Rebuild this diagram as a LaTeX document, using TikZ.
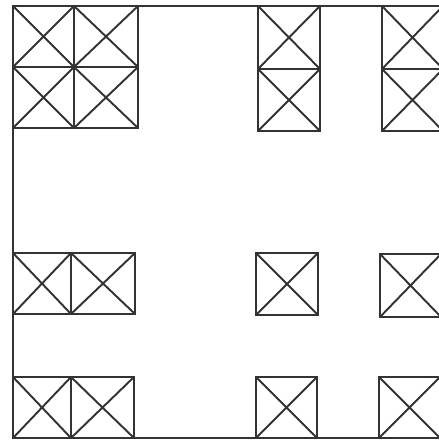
\documentclass[tikz,border=0pt]{standalone}
\usepackage{tikz}

\begin{document}
\begin{tikzpicture}[x=0.02cm,y=-0.02cm,line join=miter,
  frame/.style={line width=1.5pt,black!80},
  xcell/.style={draw,line width=1.4pt,black!80,inner sep=0pt,outer sep=0pt,anchor=north west},
  cross/.style={line width=1.1pt,black!80}]
\clip (0,0) rectangle (439,440);
\useasboundingbox (0,0) rectangle (439,440);

% outer frame, open on the right
\coordinate (tl) at (13,6);
\coordinate (tr) at (445,6);
\coordinate (bl) at (13,438);
\coordinate (br) at (445,438);
\draw[frame] (tr) -- (tl) -- (bl) -- (br);

% crossed cells: name/x/y/width/height
\foreach \n/\xa/\ya/\w/\h in {a1/13/6/61/61, a2/74/6/64/61, a3/13/67/61/61, a4/74/67/64/61,
  b1/258/6/62/63, b2/258/69/62/62, c1/382/6/61/63, c2/382/69/61/62,
  d1/13/253/58/61, d2/71/253/64/61, e1/256/253/62/62, f1/380/254/61/63,
  g1/13/377/58/61, g2/71/377/63/61, h1/256/377/61/61, i1/379/377/61/61}
{
  \node[xcell,minimum width=\w*0.02cm,minimum height=\h*0.02cm] (\n) at (\xa,\ya) {};
  \draw[cross] (\n.north west) -- (\n.south east) (\n.south west) -- (\n.north east);
}
\end{tikzpicture}
\end{document}
